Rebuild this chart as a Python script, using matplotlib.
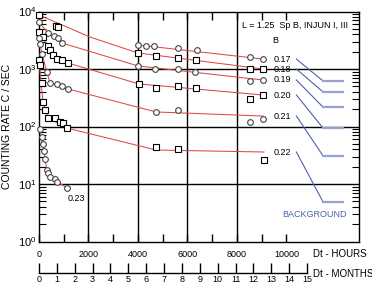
import matplotlib
matplotlib.use("Agg")
import matplotlib.pyplot as plt
import numpy as np

plt.rcParams['font.family'] = ['Liberation Sans', 'DejaVu Sans']

# B values of the series (circles / squares alternate)
b_values = ['0.17', '0.18', '0.19', '0.20', '0.21', '0.22', '0.23']
markers = ['o', 's', 'o', 's', 'o', 's', 'o']

# measured counting rates (hours after injection, counts/sec)
hours = [
    [4000, 4320, 4650, 5620, 6390, 8530, 9050],
    [0, 690, 770, 4000, 4730, 5620, 6350, 8530, 9050],
    [0, 360, 610, 770, 930, 4000, 4690, 5620, 6310, 8530, 9050],
    [0, 160, 360, 440, 565, 730, 930, 1170, 4040, 4730, 5620, 6350, 8530, 9050],
    [0, 40, 120, 320, 440, 730, 930, 1170, 4730, 5620, 8530, 9050],
    [0, 40, 120, 160, 240, 360, 650, 850, 970, 1130, 4730, 5620, 9090],
    [40, 120, 160, 200, 240, 320, 360, 440, 650, 730, 1130],
]
rates = [
    [2615, 2510, 2510, 2320, 2140, 1620, 1490],
    [8690, 5600, 5400, 1900, 1680, 1550, 1435, 1000, 1000],
    [6560, 4230, 3750, 3460, 2830, 1130, 1000, 1000, 887, 618, 644],
    [4400, 3600, 2510, 2140, 1750, 1490, 1435, 1270, 550, 468, 506, 468, 301, 353],
    [3460, 2720, 1820, 887, 571, 550, 506, 450, 179, 194, 120, 135],
    [1435, 1175, 571, 267, 194, 141, 141, 120, 115, 94, 44, 41, 26],
    [90, 66, 50, 38, 27, 17.5, 15.5, 13.2, 12.2, 11, 8.5],
]

# fitted decay curves (red)
fit_hours = [
    [4000, 9050],
    [0, 2060, 4000, 9050],
    [0, 360, 930, 4000, 9050],
    [0, 360, 730, 1170, 4040, 9050],
    [0, 120, 320, 440, 1170, 4730, 9050],
    [0, 160, 360, 1130, 4730, 9090],
    [40, 240, 320, 440, 1130],
]
fit_rates = [
    [2615, 1490],
    [8690, 3600, 1900, 1000],
    [6560, 4230, 2830, 1130, 644],
    [4400, 2510, 1490, 1270, 550, 353],
    [3460, 1820, 887, 571, 450, 179, 152],
    [1435, 267, 141, 94, 39, 36],
    [90, 27, 17.5, 13.5, 8.5],
]

# background levels for each B (0.17 ... 0.22)
background = [620, 400, 218, 94, 31, 4.9]

hour_ticks = [0, 2000, 4000, 6000, 8000, 10000]
month_ticks = list(range(16))

W, H = 372, 284
fig = plt.figure(figsize=(W / 100, H / 100), dpi=100)
ax = fig.add_axes([39 / W, 1 - 241.5 / H, 320 / W, 230 / H])

red = '#e04848'
for i in range(len(b_values)):
    ax.plot(fit_hours[i], fit_rates[i], color=red, lw=0.75, zorder=3, clip_on=False)
    ax.plot(hours[i], rates[i], ls='none', marker=markers[i], ms=4.1,
            mfc='white', mec='#444444' if markers[i] == 'o' else 'black',
            mew=0.8, zorder=4, clip_on=False)

# curve labels
for i in range(6):
    ax.text(9500, fit_rates[i][-1], b_values[i], fontsize=6.5, va='center', ha='left')
ax.text(1170, 5.5, b_values[6], fontsize=6.5, va='center', ha='left')

# background leader lines
blue_dark = '#4a62b0'
blue_light = '#98a2d2'
for i in range(6):
    ax.plot([10400, 11475], [fit_rates[i][-1], background[i]], color=blue_dark, lw=0.8)
    ax.plot([11475, 12285], [background[i], background[i]], color=blue_light, lw=1.6)
ax.text(12450, 3.0, 'BACKGROUND', color=blue_dark, fontsize=6.5, ha='right', va='center')

ax.text(0.634, 0.941, 'L = 1.25  Sp B, INJUN I, III', transform=ax.transAxes,
        fontsize=6.5, va='center', ha='left')
ax.text(0.7375, 0.876, 'B', transform=ax.transAxes, fontsize=6.5, va='center', ha='center')

ax.set_yscale('log')
ax.set_ylim(1, 1e4)
ax.set_xlim(0, 12930)

for g in [2000, 4000, 6000, 8000]:
    ax.axvline(g, color='black', lw=1.0, zorder=1)
for g in [10, 100, 1000]:
    ax.axhline(g, color='black', lw=1.0, zorder=1)

ax.set_xticks(hour_ticks)
ax.set_xticklabels([str(t) for t in hour_ticks])
ax.set_xticks([1000, 3000, 5000, 7000, 9000], minor=True)
ax.set_yticks([1, 10, 100, 1000, 10000])
ax.set_yticklabels([r'$\mathregular{10^{%d}}$' % k for k in range(5)])
ax.tick_params(axis='x', which='both', direction='in', length=6, width=1,
               top=True, labelsize=6.5, pad=6)
ax.tick_params(axis='y', which='major', direction='in', length=0,
               labelsize=8, pad=2)
ax.tick_params(axis='y', which='minor', direction='in', length=5, width=0.8,
               right=True, left=True)
ax.yaxis.set_minor_formatter(plt.NullFormatter())
for s in ax.spines.values():
    s.set_linewidth(1.0)

fig.text(7 / W, 1 - 126 / H, 'COUNTING RATE C / SEC', rotation=90,
         fontsize=7.5, ha='center', va='center')

# month scale underneath
axm = fig.add_axes([39 / W, 1 - 273 / H, 268 / W, 0.0001])
axm.set_xlim(0, 15)
axm.set_xticks(month_ticks)
axm.set_yticks([])
for side in ['top', 'left', 'right']:
    axm.spines[side].set_visible(False)
axm.spines['bottom'].set_linewidth(1.0)
axm.patch.set_visible(False)
axm.tick_params(axis='x', direction='in', length=7, width=1, labelsize=6.5, pad=1.5)

fig.text(313 / W, 1 - 254 / H, 'Dt - HOURS', fontsize=7, va='center', ha='left')
fig.text(313 / W, 1 - 274 / H, 'Dt - MONTHS', fontsize=7, va='center', ha='left')

fig.savefig('out.png', dpi=100)
